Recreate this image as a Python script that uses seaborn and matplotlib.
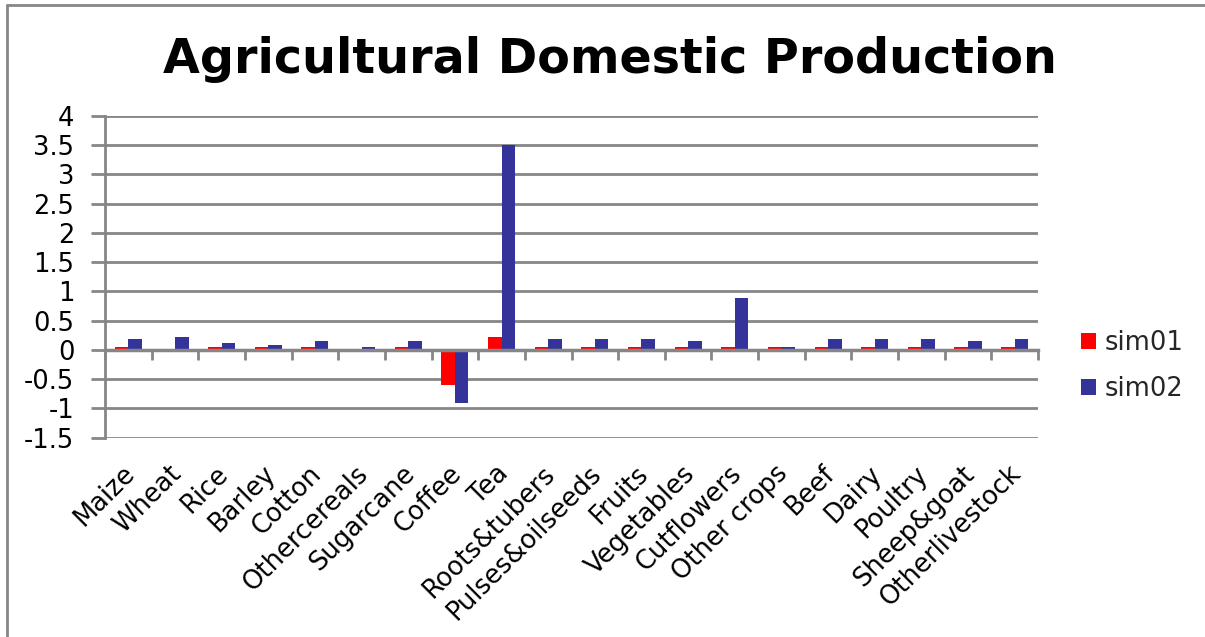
import numpy as np
import pandas as pd
import matplotlib
matplotlib.use("Agg")
import matplotlib.pyplot as plt
import matplotlib.transforms as mtransforms
from matplotlib.lines import Line2D
import seaborn as sns

categories = ["Maize", "Wheat", "Rice", "Barley", "Cotton", "Othercereals", "Sugarcane",
              "Coffee", "Tea", "Roots&tubers", "Pulses&oilseeds", "Fruits", "Vegetables",
              "Cutflowers", "Other crops", "Beef", "Dairy", "Poultry", "Sheep&goat",
              "Otherlivestock"]
sim01 = [0.05, 0.0, 0.05, 0.05, 0.05, 0.0, 0.05, -0.6, 0.22, 0.05, 0.05, 0.05, 0.05,
         0.05, 0.05, 0.05, 0.05, 0.05, 0.05, 0.05]
sim02 = [0.18, 0.22, 0.12, 0.08, 0.15, 0.05, 0.15, -0.91, 3.5, 0.18, 0.18, 0.18, 0.15,
         0.88, 0.05, 0.18, 0.18, 0.18, 0.15, 0.18]
series_names = ["sim01", "sim02"]
y_ticks = [-1.5, -1, -0.5, 0, 0.5, 1, 1.5, 2, 2.5, 3, 3.5, 4]
colors = ["#FF0000", "#333399"]
GRAY = "#868686"

df = pd.DataFrame({
    "category": categories * 2,
    "value": sim01 + sim02,
    "series": [series_names[0]] * len(categories) + [series_names[1]] * len(categories),
})

sns.set_theme(style="white")
plt.rcParams["font.family"] = ["DejaVu Sans"]
plt.rcParams["axes.unicode_minus"] = False

fig = plt.figure(figsize=(12.05, 6.37), dpi=100)
ax = fig.add_axes([105 / 1205, 1 - 437.7 / 637, (1038 - 105) / 1205, (437.7 - 115.7) / 637])

sns.barplot(data=df, x="category", y="value", hue="series", palette=colors,
            width=0.58, gap=0, saturation=1, linewidth=0, ax=ax, order=categories,
            hue_order=series_names)

ax.set_ylim(-1.5, 4)
ax.set_xlim(-0.5, len(categories) - 0.5)
ax.set_yticks(y_ticks)
ax.set_yticklabels([f"{v:g}" for v in y_ticks], fontsize=18.5, color="black")
ax.set_xlabel("")
ax.set_ylabel("")
ax.yaxis.grid(True, color=GRAY, linewidth=2)
ax.set_axisbelow(True)

for s in ["top", "right"]:
    ax.spines[s].set_visible(False)
ax.spines["left"].set_color(GRAY)
ax.spines["left"].set_linewidth(2)
ax.spines["bottom"].set_position(("data", 0))
ax.spines["bottom"].set_color(GRAY)
ax.spines["bottom"].set_linewidth(2.5)
ax.spines["bottom"].set_zorder(5)

ax.tick_params(axis="y", which="major", direction="out", length=10, width=2,
               color=GRAY, pad=12, left=True)
ax.set_xticks(range(len(categories)))
ax.set_xticklabels([])
ax.tick_params(axis="x", which="major", length=0)
ax.set_xticks(np.arange(-0.5, len(categories), 1.0), minor=True)
ax.tick_params(axis="x", which="minor", direction="out", length=7, width=2,
               color=GRAY, bottom=True)

trans = mtransforms.blended_transform_factory(ax.transData, ax.transAxes)
for i, lab in enumerate(categories):
    ax.text(i + 0.06, -0.1, lab, rotation=45, ha="right", va="center",
            rotation_mode="anchor", fontsize=18.5, transform=trans, color="black")

fig.text(0.506, 1 - 73 / 637, "Agricultural Domestic Production", ha="center",
         va="baseline", fontsize=34.3, fontweight="bold", color="black")

sns.move_legend(ax, loc="center left", bbox_to_anchor=(1081 / 1205, 1 - 366 / 637),
                bbox_transform=fig.transFigure, frameon=False, title=None,
                fontsize=18.5, handlelength=0.58, handleheight=0.58,
                handletextpad=0.35, labelspacing=0.75, borderpad=0, borderaxespad=0)

fig.add_artist(Line2D([7 / 1205, 1.01], [1 - 5 / 637, 1 - 5 / 637], color=GRAY,
                      linewidth=2, transform=fig.transFigure))
fig.add_artist(Line2D([7 / 1205, 7 / 1205], [-0.01, 1 - 5 / 637], color=GRAY,
                      linewidth=2, transform=fig.transFigure))

fig.savefig("out.png", dpi=100, facecolor="white")
